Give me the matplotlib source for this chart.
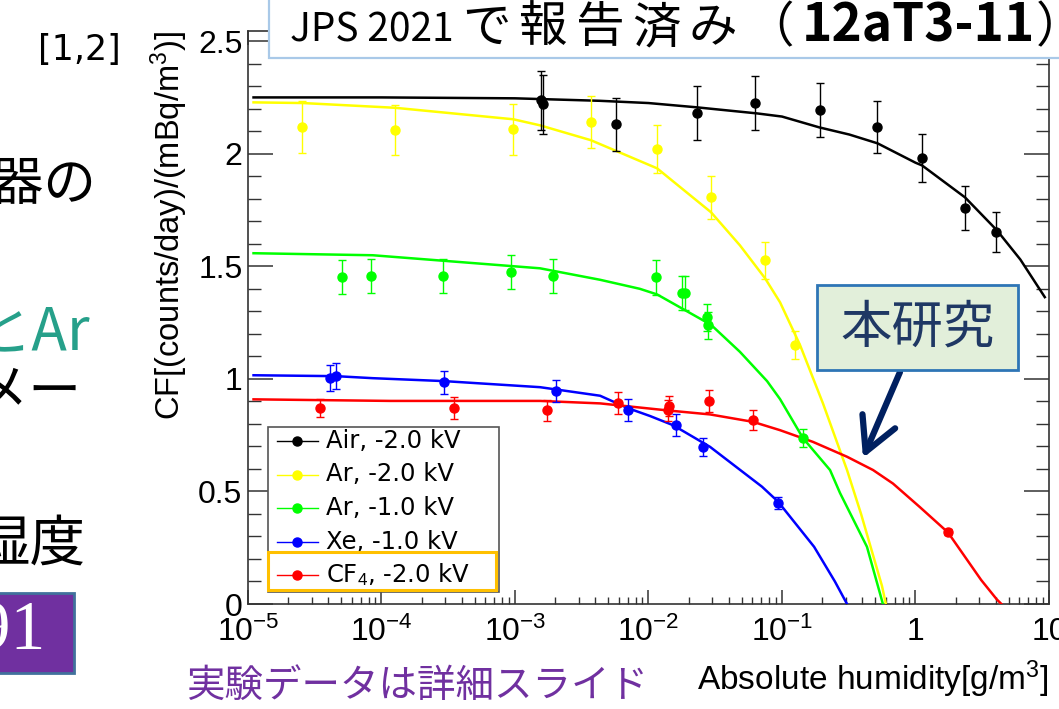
import math
import matplotlib
matplotlib.use("Agg")
import matplotlib.pyplot as plt
from matplotlib.lines import Line2D
from matplotlib.patches import Rectangle
from matplotlib.ticker import LogLocator, MultipleLocator, FuncFormatter, NullFormatter

plt.rcParams['font.family'] = ['Liberation Sans', 'DejaVu Sans']
plt.rcParams['mathtext.fontset'] = 'custom'
plt.rcParams['mathtext.rm'] = 'Liberation Sans'
plt.rcParams['mathtext.it'] = 'Liberation Sans:italic'
plt.rcParams['mathtext.bf'] = 'Liberation Sans:bold'
JP = ['Noto Sans CJK JP', 'DejaVu Sans']

W, H = 1059, 709

air_x = [1.57e-3, 1.62e-3, 5.7e-3, 0.0231, 0.0628, 0.193, 0.515, 1.12, 2.35, 4.0]
air_y = [2.237, 2.219, 2.13, 2.18, 2.224, 2.193, 2.117, 1.98, 1.758, 1.651]
air_e = [0.13, 0.13, 0.118, 0.12, 0.12, 0.12, 0.115, 0.107, 0.097, 0.089]

ar2_x = [2.54e-5, 1.26e-4, 9.7e-4, 3.69e-3, 0.0115, 0.0294, 0.0747, 0.125]
ar2_y = [2.117, 2.104, 2.108, 2.142, 2.02, 1.806, 1.527, 1.15]
ar2_e = [0.115, 0.111, 0.113, 0.116, 0.107, 0.096, 0.082, 0.063]

ar1_x = [5.06e-5, 8.3e-5, 2.89e-4, 9.33e-4, 1.93e-3, 0.0114, 0.0178, 0.0187, 0.0274, 0.0279, 0.1435]
ar1_y = [1.451, 1.456, 1.456, 1.474, 1.456, 1.451, 1.38, 1.38, 1.274, 1.238, 0.737]
ar1_e = [0.076, 0.076, 0.076, 0.076, 0.076, 0.077, 0.076, 0.076, 0.06, 0.06, 0.04]

xe_x = [4.11e-5, 4.56e-5, 2.94e-4, 2.03e-3, 7.0e-3, 0.0161, 0.0256, 0.0933]
xe_y = [1.003, 1.012, 0.985, 0.945, 0.861, 0.794, 0.697, 0.448]
xe_e = [0.057, 0.057, 0.052, 0.048, 0.048, 0.048, 0.04, 0.027]

cf4_x = [3.46e-5, 3.49e-4, 1.74e-3, 5.9e-3, 0.01426, 0.0140, 0.0284, 0.0607, 1.75]
cf4_y = [0.870, 0.870, 0.861, 0.892, 0.879, 0.861, 0.901, 0.817, 0.320]
cf4_e = [0.04, 0.048, 0.047, 0.049, 0.046, 0.046, 0.048, 0.045, 0.012]

# fitted curves
air_fx = [1.1e-5, 1e-4, 1e-3, 4.3e-3, 1e-2, 2.3e-2, 6.5e-2, 0.1, 0.19, 0.32, 0.52, 1.0, 1.12, 2.35, 4.07, 6.1, 9.3]
air_fy = [2.25, 2.25, 2.246, 2.235, 2.225, 2.206, 2.179, 2.165, 2.117, 2.085, 2.046, 1.96, 1.948, 1.806, 1.66, 1.53, 1.363]

ar2_fx = [1.1e-5, 2.58e-5, 1.26e-4, 9.7e-4, 1.54e-3, 3.7e-3, 0.0116, 0.0294, 0.0484, 0.0746,
          0.0967, 0.1365, 0.203, 0.307, 0.391, 0.561, 0.60]
ar2_fy = [2.228, 2.225, 2.204, 2.153, 2.126, 2.06, 1.935, 1.74, 1.593, 1.447,
          1.34, 1.15, 0.89, 0.595, 0.40, 0.08, 0.0]

ar1_fx = [1.1e-5, 8.6e-5, 1.54e-3, 4.34e-3, 8.6e-3, 0.0116, 0.0294, 0.0484, 0.0773, 0.0967,
          0.1435, 0.229, 0.272, 0.433, 0.542, 0.57]
ar1_fy = [1.558, 1.549, 1.491, 1.44, 1.40, 1.375, 1.24, 1.12, 0.99, 0.91,
          0.737, 0.595, 0.493, 0.254, 0.047, 0.0]

xe_fx = [1.1e-5, 4.56e-5, 8.6e-5, 2.94e-4, 1.54e-3, 4.34e-3, 7.0e-3, 0.01026, 0.0153, 0.0289,
         0.0708, 0.0933, 0.174, 0.249, 0.307]
xe_fy = [1.016, 1.012, 1.003, 0.99, 0.963, 0.925, 0.87, 0.835, 0.794, 0.698,
         0.521, 0.455, 0.254, 0.10, 0.0]

cf4_fx = [1.1e-5, 1.16e-4, 1.54e-3, 4.34e-3, 0.01377, 0.0289, 0.0607, 0.0967, 0.1706, 0.307,
          0.481, 0.678, 1.08, 1.75, 3.10, 4.07, 4.4]
cf4_fy = [0.909, 0.902, 0.902, 0.891, 0.86, 0.842, 0.809, 0.772, 0.72, 0.654,
          0.595, 0.535, 0.43, 0.318, 0.107, 0.02, 0.0]

labels = ['Air, -2.0 kV', 'Ar, -2.0 kV', 'Ar, -1.0 kV', 'Xe, -1.0 kV', 'CF$_4$, -2.0 kV']
colors = ['#000000', '#FFFF00', '#00FF00', '#0000FF', '#FF0000']
points = [(air_x, air_y, air_e), (ar2_x, ar2_y, ar2_e), (ar1_x, ar1_y, ar1_e),
          (xe_x, xe_y, xe_e), (cf4_x, cf4_y, cf4_e)]
curves = [(air_fx, air_fy), (ar2_fx, ar2_fy), (ar1_fx, ar1_fy), (xe_fx, xe_fy), (cf4_fx, cf4_fy)]


def fx(x):
    return x / W


def fy(y):
    return 1 - y / H


fig = plt.figure(figsize=(W / 100, H / 100), dpi=100)
ax = fig.add_axes([fx(248), fy(604), (1049 - 248) / W, (604 - 31) / H])

for (px, py, pe), (cx, cy), c in zip(points, curves, colors):
    ax.plot(cx, cy, color=c, lw=1.8, zorder=3)
    ax.errorbar(px, py, yerr=pe, fmt='o', color=c, ms=6.5, elinewidth=1.0,
                capsize=3, capthick=1.0, zorder=4)

ax.set_xscale('log')
ax.set_xlim(1e-5, 10)
ax.set_ylim(0, 2.545)


def xfmt(v, pos):
    if abs(v - 1) < 1e-9:
        return '1'
    if abs(v - 10) < 1e-9:
        return '10'
    return r'$\mathdefault{10^{%d}}$' % int(round(math.log10(v)))


ax.xaxis.set_major_locator(LogLocator(base=10, numticks=20))
ax.xaxis.set_minor_locator(LogLocator(base=10, subs=range(2, 10), numticks=20))
ax.xaxis.set_major_formatter(FuncFormatter(xfmt))
ax.xaxis.set_minor_formatter(NullFormatter())
ax.yaxis.set_major_locator(MultipleLocator(0.5))
ax.yaxis.set_minor_locator(MultipleLocator(0.1))
ax.yaxis.set_major_formatter(FuncFormatter(lambda v, p: '%g' % v))

for s in ax.spines.values():
    s.set_color('#333333')
    s.set_linewidth(1.2)
ax.tick_params(which='both', direction='in', top=True, right=True, colors='#333333',
               labelcolor='black', labelsize=23)
ax.yaxis.set_tick_params(which='major', length=18, width=1.1, pad=4)
ax.yaxis.set_tick_params(which='minor', length=9.5, width=1.0)
ax.xaxis.set_tick_params(which='major', length=10, width=1.1, pad=9)
ax.xaxis.set_tick_params(which='minor', length=5, width=1.0)

ax.set_ylabel('CF[(counts/day)/(mBq/m$^3$)]', fontsize=23.5, loc='top', labelpad=6)
ax.set_xlabel('Absolute humidity[g/m$^3$]', fontsize=24, loc='right', labelpad=8)

# legend drawn by hand to follow the ROOT box
fig.add_artist(Rectangle((fx(268), fy(592)), (499 - 268) / W, (592 - 427) / H,
                         transform=fig.transFigure, fc='white', ec='#555555', lw=1.2, zorder=10))
for i, (lab, c) in enumerate(zip(labels, colors)):
    yy = 441 + i * 33.5
    fig.add_artist(Line2D([fx(277), fx(318)], [fy(yy), fy(yy)], transform=fig.transFigure,
                          color=c, lw=1.0, zorder=11))
    fig.add_artist(Line2D([fx(297)], [fy(yy)], transform=fig.transFigure, color=c,
                          marker='o', ms=6.5, zorder=12))
    fig.text(fx(326), fy(yy), lab, family=['DejaVu Sans'], fontsize=17.5, va='center',
             ha='left', zorder=12)
fig.add_artist(Rectangle((fx(268), fy(590)), (496 - 268) / W, (590 - 552) / H,
                         transform=fig.transFigure, fc='none', ec='#FFC000', lw=2.2, zorder=13))

# slide decorations around the chart
fig.add_artist(Rectangle((fx(269), fy(58)), (1070 - 269) / W, 80 / H, transform=fig.transFigure,
                         fc='white', ec='#A9C9E8', lw=1.6, zorder=20))
fig.canvas.draw()
rend = fig.canvas.get_renderer()
# header pieces: text, size, weight, extra spacing after each character (px)
head = [('JPS 2021 ', 28, 'normal', 0), ('で報告済み（', 35, 'normal', 8),
        ('12aT3-11', 37, 'bold', 0), ('）', 35, 'normal', 0)]
xpos = fx(290)
for txt, size, weight, track in head:
    pieces = list(txt) if track else [txt]
    for p in pieces:
        t = fig.text(xpos, fy(42), p, family=JP, fontsize=size, fontweight=weight,
                     va='baseline', ha='left', zorder=21)
        xpos = (t.get_window_extent(renderer=rend).x1 + track) / W

fig.add_artist(Rectangle((fx(817), fy(370)), (1018 - 817) / W, (370 - 285) / H,
                         transform=fig.transFigure, fc='#E2EFDA', ec='#2E75B6', lw=2, zorder=20))
fig.text(fx(917), fy(328), '本研究', family=JP, fontsize=37, color='#1F3864', va='center',
         ha='center', zorder=21)
ax.annotate('', xy=(863, H - 458), xycoords='figure pixels', xytext=(900, H - 372),
            textcoords='figure pixels',
            arrowprops=dict(arrowstyle='->,head_length=0.6,head_width=0.32', lw=4.5,
                            color='#002060', mutation_scale=40, shrinkA=0, shrinkB=0),
            zorder=21)

fig.text(fx(121), fy(50), '[1,2]', family=['DejaVu Sans'], fontsize=25, va='center', ha='right')
fig.text(fx(96), fy(184), '検出器の', family=JP, fontsize=38, va='center', ha='right')
fig.text(fx(90), fy(334), 'とAr', family=JP, fontsize=42, color='#26A08A', va='center', ha='right')
fig.text(fx(82), fy(392), 'パラメー', family=JP, fontsize=38, va='center', ha='right')
fig.text(fx(86), fy(545), '湿度', family=JP, fontsize=40, va='center', ha='right')
fig.add_artist(Rectangle((fx(-5), fy(673)), 79 / W, 80 / H, transform=fig.transFigure,
                         fc='#7030A0', ec='#41719C', lw=2))
fig.text(fx(46), fy(633), '091', family=['Liberation Serif'], fontsize=50, color='white',
         va='center', ha='right')
fig.text(fx(186), fy(686), '実験データは詳細スライド', family=JP, fontsize=27.7, color='#7030A0',
         va='center', ha='left')

fig.savefig('out.png', dpi=100)
